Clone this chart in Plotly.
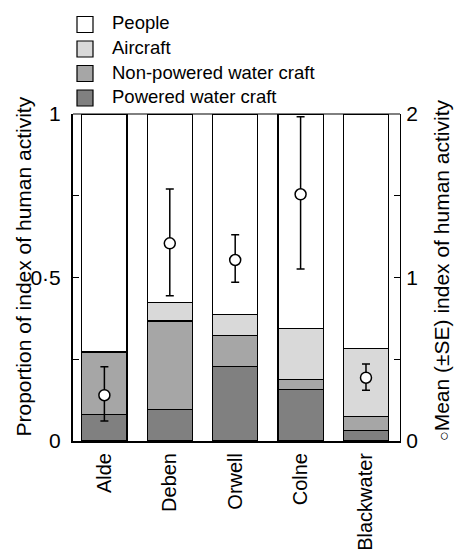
import plotly.graph_objects as go

categories = ["Alde", "Deben", "Orwell", "Colne", "Blackwater"]
powered = [0.082, 0.097, 0.228, 0.158, 0.033]
non_powered = [0.190, 0.270, 0.094, 0.029, 0.043]
aircraft = [0.000, 0.056, 0.065, 0.156, 0.206]
people = [0.728, 0.577, 0.613, 0.657, 0.718]

mean_index = [0.280, 1.209, 1.107, 1.509, 0.387]
se_plus = [0.174, 0.332, 0.155, 0.474, 0.084]
se_minus = [0.158, 0.320, 0.136, 0.457, 0.077]

left_ticks = [0, 0.25, 0.5, 0.75, 1]
left_ticktext = ["0", "", "0·5", "", "1"]
right_ticks = [0, 0.5, 1, 1.5, 2]
right_ticktext = ["0", "", "1", "", "2"]

series = [
    ("Powered water craft", powered, "#808080"),
    ("Non-powered water craft", non_powered, "#a6a6a6"),
    ("Aircraft", aircraft, "#d9d9d9"),
    ("People", people, "#ffffff"),
]

FONT = "Liberation Sans, Arial, sans-serif"
W, H = 456, 555
L, R, T, B = 73, 400, 114, 441

fig = go.Figure()
for name, vals, col in series:
    fig.add_trace(go.Bar(
        x=categories, y=vals, name=name,
        marker=dict(color=col, line=dict(color="black", width=1.2)),
        showlegend=False, yaxis="y",
    ))

fig.add_trace(go.Scatter(
    x=categories, y=mean_index, yaxis="y2", mode="markers",
    marker=dict(symbol="circle", size=11, color="white",
                line=dict(color="black", width=1.5)),
    error_y=dict(type="data", symmetric=False, array=se_plus,
                 arrayminus=se_minus, color="black", thickness=1.5, width=4),
    showlegend=False,
))

def px_x(p):
    return (p - L) / (R - L)

def px_y(p):
    return (B - p) / (B - T)

shapes = [
    dict(type="line", xref="paper", yref="paper", x0=0, x1=1, y0=1, y1=1,
         line=dict(color="black", width=1)),
]
annotations = []
legend_items = [("People", "#ffffff"), ("Aircraft", "#d9d9d9"),
                ("Non-powered water craft", "#a6a6a6"), ("Powered water craft", "#808080")]
row_centers = [24.5, 49, 73.5, 98]
for (label, col), cy in zip(legend_items, row_centers):
    shapes.append(dict(type="rect", xref="paper", yref="paper",
                       x0=px_x(77), x1=px_x(93), y0=px_y(cy + 8), y1=px_y(cy - 8),
                       fillcolor=col, line=dict(color="black", width=1.2)))
    annotations.append(dict(xref="paper", yref="paper", x=px_x(110), y=px_y(cy - 1.5),
                            xanchor="left", yanchor="middle", text=label,
                            showarrow=False, font=dict(size=18.5, color="black", family=FONT)))

annotations.append(dict(xref="paper", yref="paper", x=px_x(23), y=px_y(266.5),
                        xanchor="center", yanchor="middle", textangle=-90,
                        text="Proportion of index of human activity", showarrow=False,
                        font=dict(size=21, color="black", family=FONT)))
annotations.append(dict(xref="paper", yref="paper", x=px_x(441), y=px_y(270),
                        xanchor="center", yanchor="middle", textangle=-90,
                        text="<span style='font-size:16px'>○</span>Mean (±SE) index of human activity",
                        showarrow=False,
                        font=dict(size=21, color="black", family=FONT)))

fig.update_layout(
    width=W, height=H,
    margin=dict(l=L, r=W - R, t=T, b=H - B, pad=0, autoexpand=False),
    paper_bgcolor="white", plot_bgcolor="white",
    barmode="stack", bargap=0.31,
    font=dict(family=FONT, color="black", size=20),
    xaxis=dict(type="category", range=[-0.48, 4.52], showline=True, linewidth=2,
               linecolor="black", ticks="", tickangle=-90, showgrid=False,
               tickfont=dict(size=20), ticklabelstandoff=2, automargin=False),
    yaxis=dict(range=[0, 1], tickvals=left_ticks, ticktext=left_ticktext,
               ticks="inside", ticklen=6, tickwidth=1, tickcolor="black",
               showline=True, linewidth=2, linecolor="black", showgrid=False,
               zeroline=False, tickfont=dict(size=21), ticklabelstandoff=6,
               automargin=False),
    yaxis2=dict(range=[0, 2], overlaying="y", side="right", tickvals=right_ticks,
                ticktext=right_ticktext, ticks="inside", ticklen=6, tickwidth=1,
                tickcolor="black", showline=True, linewidth=1, linecolor="black",
                showgrid=False, zeroline=False, tickfont=dict(size=21),
                ticklabelstandoff=1, automargin=False),
    shapes=shapes, annotations=annotations,
)

fig.write_html("out.html")
